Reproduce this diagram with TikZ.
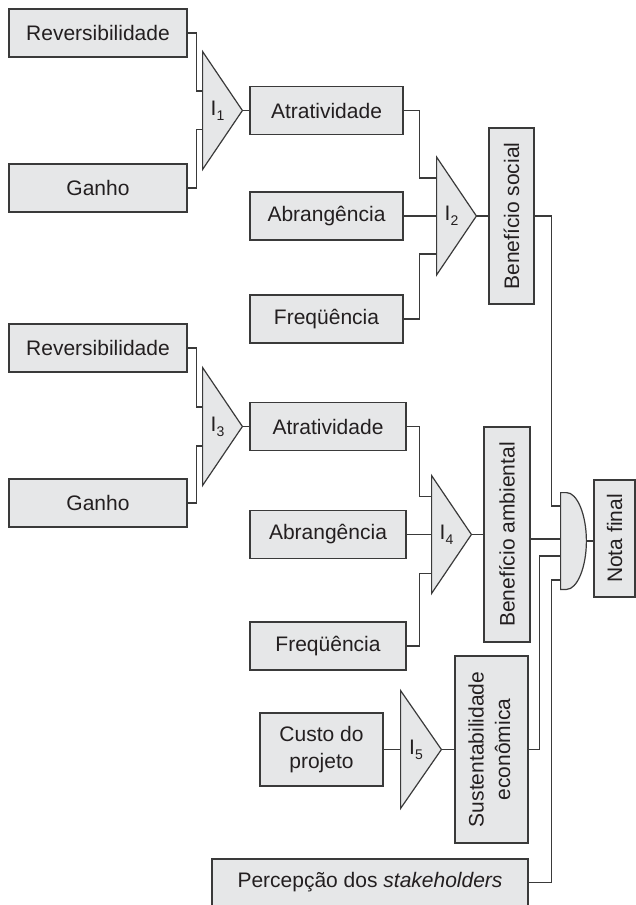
\documentclass[tikz,border=0pt]{standalone}
\usepackage{fontspec}
\setmainfont{Liberation Sans}
\usetikzlibrary{calc}
\definecolor{caixa}{HTML}{E6E7E8}
\definecolor{traco}{HTML}{3A3A3A}
\definecolor{texto}{HTML}{231F20}
\tikzstyle{block} = [rectangle, draw=traco, fill=caixa, line width=0.7pt,
inner sep=0pt, text=texto, align=center]
\tikzstyle{tri} = [rectangle, inner sep=0pt, minimum width=19.5pt, minimum height=58.5pt]
\tikzstyle{trishape} = [draw=traco, fill=caixa, line width=0.6pt, line join=miter]
\tikzstyle{wire} = [draw=traco, line width=0.6pt]
\newcommand{\Isub}[1]{I\raisebox{-2.5pt}{\fontsize{7}{8}\selectfont #1}}

\begin{document}
\begin{tikzpicture}[x=0.5pt, y=-0.5pt, font=\fontsize{10.5}{13.25}\selectfont]
        \useasboundingbox (0,0) rectangle (636,905);

        % Bloco superior (Benefício social)
        \node[block, minimum width=89pt, minimum height=24pt] (rev1) at (98,33) {Reversibilidade};
        \node[block, minimum width=89pt, minimum height=24pt] (gan1) at (98,188) {Ganho};
        \node[tri] (t1) at (222.5,110.5) {};
        \draw[trishape] (t1.north west) -- (t1.east) -- (t1.south west) -- cycle;
        \node[text=texto, xshift=-2.5pt] (t1-lbl) at (t1) {\Isub{1}};
        \node[block, minimum width=76.5pt, minimum height=24pt] (at1) at (326.5,110.5) {Atratividade};
        \node[block, minimum width=76.5pt, minimum height=24pt] (ab1) at (326.5,216) {Abrangência};
        \node[block, minimum width=76.5pt, minimum height=24pt] (fr1) at (326.5,319) {Freqüência};
        \node[tri] (t2) at (456.5,216) {};
        \draw[trishape] (t2.north west) -- (t2.east) -- (t2.south west) -- cycle;
        \node[text=texto, xshift=-2.5pt] (t2-lbl) at (t2) {\Isub{2}};
        \node[block, minimum width=22.5pt, minimum height=88pt] (bs) at (511.5,216) {\rotatebox{90}{Benefício social}};

        % Bloco do meio (Benefício ambiental)
        \node[block, minimum width=89pt, minimum height=24pt] (rev2) at (98,348) {Reversibilidade};
        \node[block, minimum width=89pt, minimum height=24pt] (gan2) at (98,503) {Ganho};
        \node[tri] (t3) at (222.5,426.5) {};
        \draw[trishape] (t3.north west) -- (t3.east) -- (t3.south west) -- cycle;
        \node[text=texto, xshift=-2.5pt] (t3-lbl) at (t3) {\Isub{3}};
        \node[block, minimum width=78pt, minimum height=24pt] (at2) at (328,426.5) {Atratividade};
        \node[block, minimum width=78pt, minimum height=24pt] (ab2) at (328,534.5) {Abrangência};
        \node[block, minimum width=78pt, minimum height=24pt] (fr2) at (328,646) {Freqüência};
        \node[tri] (t4) at (451.5,534.5) {};
        \draw[trishape] (t4.north west) -- (t4.east) -- (t4.south west) -- cycle;
        \node[text=texto, xshift=-2.5pt] (t4-lbl) at (t4) {\Isub{4}};
        \node[block, minimum width=23pt, minimum height=107.5pt] (ba) at (507,534.5) {\rotatebox{90}{Benefício ambiental}};

        % Bloco inferior (Sustentabilidade e stakeholders)
        \node[block, minimum width=61.5pt, minimum height=36.5pt] (cp) at (321.5,749.5) {Custo do\\projeto};
        \node[tri, minimum width=20pt] (t5) at (421,749.5) {};
        \draw[trishape] (t5.north west) -- (t5.east) -- (t5.south west) -- cycle;
        \node[text=texto, xshift=-2.5pt] (t5-lbl) at (t5) {\Isub{5}};
        \node[block, minimum width=36.5pt, minimum height=93.5pt] (se) at (491.5,749.5)
        {\rotatebox{90}{\begin{tabular}{@{}c@{}}Sustentabilidade\\econômica\end{tabular}}};
        \node[block, minimum width=158pt, minimum height=23.5pt] (ps) at (370,882.5) {Percepção dos \textit{stakeholders}};

        % Agregador final e nota
        \node[rectangle, inner sep=0pt, minimum width=12.5pt, minimum height=48pt] (g) at (573.5,541) {};
        \draw[trishape] (g.south west) -- (g.north west) -- ++(6,0)
        .. controls +(10.5,0) and +(0,-26.5) .. (g.east)
        .. controls +(0,26.5) and +(10.5,0) .. ([xshift=3pt]g.south west) -- cycle;
        \node[block, minimum width=20.5pt, minimum height=58.5pt] (nf) at (614.5,538.5) {\rotatebox{90}{Nota final}};
        \coordinate (g-in1) at ([yshift=17.5pt]g.west);
        \coordinate (g-in2) at ([yshift=1pt]g.west);
        \coordinate (g-in3) at ([yshift=-7.5pt]g.west);
        \coordinate (g-in4) at ([yshift=-19.5pt]g.west);

        % Ligações I_1 e I_2
        \draw[wire] (rev1.east) -- ++(9,0) |- ([yshift=9.75pt]t1.west);
        \draw[wire] (gan1.east) -- ++(9,0) |- ([yshift=-9.5pt]t1.west);
        \draw[wire] (t1.east) -- (at1.west);
        \draw[wire] (at1.east) -- ++(16,0) |- ([yshift=19pt]t2.west);
        \draw[wire] (ab1.east) -- (t2.west);
        \draw[wire] (fr1.east) -- ++(16,0) |- ([yshift=-19pt]t2.west);
        \draw[wire] (t2.east) -- (bs.west);

        % Ligações I_3 e I_4
        \draw[wire] (rev2.east) -- ++(9,0) |- ([yshift=9.75pt]t3.west);
        \draw[wire] (gan2.east) -- ++(9,0) |- ([yshift=-9.75pt]t3.west);
        \draw[wire] (t3.east) -- (at2.west);
        \draw[wire] (at2.east) -- ++(13,0) |- ([yshift=19pt]t4.west);
        \draw[wire] (ab2.east) -- (t4.west);
        \draw[wire] (fr2.east) -- ++(13,0) |- ([yshift=-19.5pt]t4.west);
        \draw[wire] (t4.east) -- (ba.west);

        % Ligações I_5
        \draw[wire] (cp.east) -- (t5.west);
        \draw[wire] (t5.east) -- (se.west);

        % Entradas do agregador
        \draw[wire] (bs.east) -- ++(17,0) |- (g-in1);
        \draw[wire] (g-in2 -| ba.east) -- (g-in2);
        \draw[wire] (se.east) -- ++(11,0) |- (g-in3);
        \draw[wire] (ps.east) -- ++(23,0) |- (g-in4);
        \draw[wire] (g.east) -- (g.east -| nf.west);

    \end{tikzpicture}
\end{document}
